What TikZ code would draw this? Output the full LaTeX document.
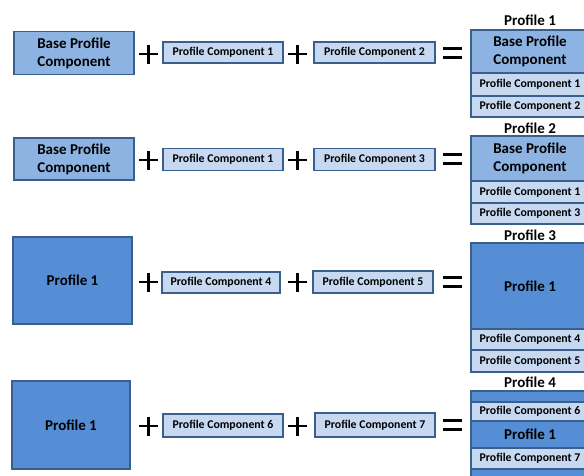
\documentclass[tikz,border=0pt]{standalone}
\usepackage{fontspec}
\setmainfont{Carlito}
\definecolor{bordc}{HTML}{3A5F8C}
\definecolor{basec}{HTML}{8DB3E2}
\definecolor{profc}{HTML}{558ED5}
\definecolor{compc}{HTML}{C6D9F1}
\tikzset{
  every node/.style={inner sep=0pt, outer sep=0pt, font=\bfseries},
  bigtxt/.style={font=\fontsize{15}{18}\selectfont\bfseries},
  smalltxt/.style={font=\fontsize{11.8}{13}\selectfont\bfseries},
  basebox/.style={draw=bordc, line width=1.3pt, fill=basec, rectangle, align=center, bigtxt},
  profbox/.style={draw=bordc, line width=1.3pt, fill=profc, rectangle, align=center, bigtxt},
  compbox/.style={draw=bordc, line width=1.3pt, fill=compc, rectangle, smalltxt},
  titletxt/.style={bigtxt},
  opline/.style={line width=2.6pt, black}
}
\newcommand{\plusop}[3]{%
  \coordinate (#1) at (#2,#3);
  \draw[opline] ([xshift=-9.5pt]#1) -- ([xshift=9.5pt]#1);
  \draw[opline] ([yshift=-9.5pt]#1) -- ([yshift=9.5pt]#1);}
\newcommand{\eqop}[3]{%
  \coordinate (#1) at (#2,#3);
  \draw[opline] ([xshift=-9.5pt,yshift=-4.5pt]#1) -- ([xshift=9.5pt,yshift=-4.5pt]#1);
  \draw[opline] ([xshift=-9.5pt,yshift=4.5pt]#1) -- ([xshift=9.5pt,yshift=4.5pt]#1);}
\begin{document}
\begin{tikzpicture}[x=1pt,y=-1pt]
\useasboundingbox (0,0) rectangle (584,475);
\clip (0,0) rectangle (584,475);
\fill[white] (0,0) rectangle (584,475);

% ---------- Row 1 ----------
\node[basebox, minimum width=120pt, minimum height=43pt] (b1) at (74,53) {Base Profile\\Component};
\plusop{p1a}{148.5}{54}
\node[compbox, minimum width=120pt, minimum height=21pt] (c11) at (223,52.5) {Profile Component 1};
\plusop{p1b}{297.5}{54}
\node[compbox, minimum width=121pt, minimum height=21pt] (c12) at (374.5,52.5) {Profile Component 2};
\eqop{e1}{452.5}{53}
\node[titletxt] (t1) at (530,20) {Profile 1};
\node[basebox, minimum width=118pt, minimum height=43pt] (s1a) at (530,51.5) {Base Profile\\Component};
\node[compbox, minimum width=118pt, minimum height=22pt] (s1b) at (530,84.5) {Profile Component 1};
\node[compbox, minimum width=118pt, minimum height=21pt] (s1c) at (530,106.5) {Profile Component 2};

% ---------- Row 2 ----------
\node[basebox, minimum width=120pt, minimum height=42pt] (b2) at (74,159) {Base Profile\\Component};
\plusop{p2a}{148.5}{160}
\node[compbox, minimum width=120pt, minimum height=22pt] (c21) at (223,159.5) {Profile Component 1};
\plusop{p2b}{297.5}{160}
\node[compbox, minimum width=121pt, minimum height=22pt] (c23) at (374.5,159.5) {Profile Component 3};
\eqop{e2}{452.5}{159}
\node[titletxt] (t2) at (530,128) {Profile 2};
\node[basebox, minimum width=118pt, minimum height=45pt] (s2a) at (530,158.5) {Base Profile\\Component};
\node[compbox, minimum width=118pt, minimum height=22pt] (s2b) at (530,192) {Profile Component 1};
\node[compbox, minimum width=118pt, minimum height=21pt] (s2c) at (530,213.5) {Profile Component 3};

% ---------- Row 3 ----------
\node[profbox, minimum width=119pt, minimum height=87pt] (b3) at (72.5,280.5) {Profile 1};
\plusop{p3a}{148.5}{282}
\node[compbox, minimum width=118pt, minimum height=21pt] (c34) at (221,282.5) {Profile Component 4};
\plusop{p3b}{297.5}{282}
\node[compbox, minimum width=120pt, minimum height=22pt] (c35) at (373,282) {Profile Component 5};
\eqop{e3}{452.5}{282}
\node[titletxt] (t3) at (530,235) {Profile 3};
\node[profbox, minimum width=118pt, minimum height=86pt] (s3a) at (530,286) {Profile 1};
\node[compbox, minimum width=118pt, minimum height=21pt] (s3b) at (530,339.5) {Profile Component 4};
\node[compbox, minimum width=118pt, minimum height=22pt] (s3c) at (530,361) {Profile Component 5};

% ---------- Row 4 ----------
\node[profbox, minimum width=118pt, minimum height=88pt] (b4) at (71,425) {Profile 1};
\plusop{p4a}{148.5}{426}
\node[compbox, minimum width=120pt, minimum height=23pt] (c46) at (223,425.5) {Profile Component 6};
\plusop{p4b}{297.5}{426}
\node[compbox, minimum width=120pt, minimum height=24pt] (c47) at (375,425) {Profile Component 7};
\eqop{e4}{452.5}{425}
\node[titletxt] (t4) at (530,382) {Profile 4};
\node[profbox, minimum width=118pt, minimum height=11pt] (s4a) at (530,396.5) {};
\node[compbox, minimum width=118pt, minimum height=19pt] (s4b) at (530,411.5) {Profile Component 6};
\node[profbox, minimum width=118pt, minimum height=27pt] (s4c) at (530,434.5) {Profile 1};
\node[compbox, minimum width=118pt, minimum height=21pt] (s4d) at (530,458.5) {Profile Component 7};
\node[profbox, minimum width=118pt, minimum height=14pt] (s4e) at (530,476) {};
\end{tikzpicture}
\end{document}
